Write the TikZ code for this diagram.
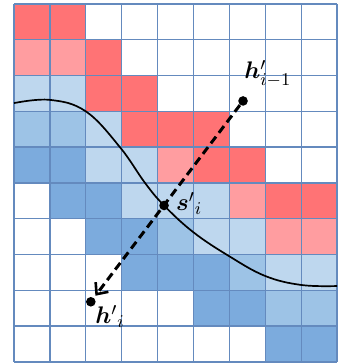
\documentclass[tikz,border=0pt]{standalone}
\usepackage{amsmath}
\usepackage{bm}
\usetikzlibrary{arrows.meta}
\definecolor{c0}{RGB}{255,255,255}
\definecolor{c1}{RGB}{255,115,117}
\definecolor{c2}{RGB}{255,157,160}
\definecolor{c3}{RGB}{190,215,238}
\definecolor{c4}{RGB}{157,195,230}
\definecolor{c5}{RGB}{124,171,221}
\definecolor{gridc}{RGB}{100,138,190}
\tikzset{
  gridline/.style={draw=gridc, line width=0.65pt},
  dotnode/.style={circle, fill=black, inner sep=0pt, minimum size=4.8pt},
  lbl/.style={inner sep=1pt, font=\fontsize{13}{15}\selectfont},
  curveline/.style={line width=0.85pt, black},
  arrowline/.style={line width=1.5pt, dash pattern=on 4.2pt off 2.4pt, -{Straight Barb[length=4.5pt,width=8pt,line width=1.3pt]}, shorten >=1.2pt}
}
\begin{document}
\begin{tikzpicture}[x=17.95pt, y=-17.9pt]
\useasboundingbox (-0.39,-0.11) rectangle (9.22,10.03);
\foreach \row [count=\r from 0] in {
  {1,1,0,0,0,0,0,0,0},
  {2,2,1,0,0,0,0,0,0},
  {3,3,1,1,0,0,0,0,0},
  {4,4,3,1,1,1,0,0,0},
  {5,5,3,3,2,1,1,0,0},
  {0,5,5,3,3,3,2,1,1},
  {0,0,5,5,4,3,3,2,2},
  {0,0,0,5,5,5,4,3,3},
  {0,0,0,0,0,5,5,4,4},
  {0,0,0,0,0,0,0,5,5}} {
  \foreach \v [count=\c from 0] in \row {
    \fill[c\v] (\c,\r) rectangle ++(1,1);
  }
}
\foreach \i in {0,...,9} { \draw[gridline] (\i,0) -- (\i,10); }
\foreach \j in {0,...,10} { \draw[gridline] (0,\j) -- (9,\j); }
\draw[curveline] plot[smooth, tension=0.65] coordinates {
  (0,2.77) (1.0,2.68) (2.0,3.0) (2.95,4.0) (3.65,5.0) (4.18,5.63)
  (5.0,6.38) (6.0,7.05) (7.0,7.6) (8.0,7.85) (9,7.88)};
\node[dotnode] (hp) at (6.38,2.71) {};
\node[dotnode] (hi) at (2.14,8.32) {};
\node[dotnode] (s) at (4.18,5.63) {};
\draw[arrowline] (hp) -- (hi);
\node[lbl, anchor=south west] (hplbl) at (6.35,2.4) {$\bm{h}'_{i-1}$};
\node[lbl, anchor=south west] (slbl) at (4.45,5.95) {${\bm{s}'}_{i}$};
\node[lbl, anchor=north west] (hilbl) at (2.2,8.35) {${\bm{h}'}_{i}$};
\end{tikzpicture}
\end{document}
